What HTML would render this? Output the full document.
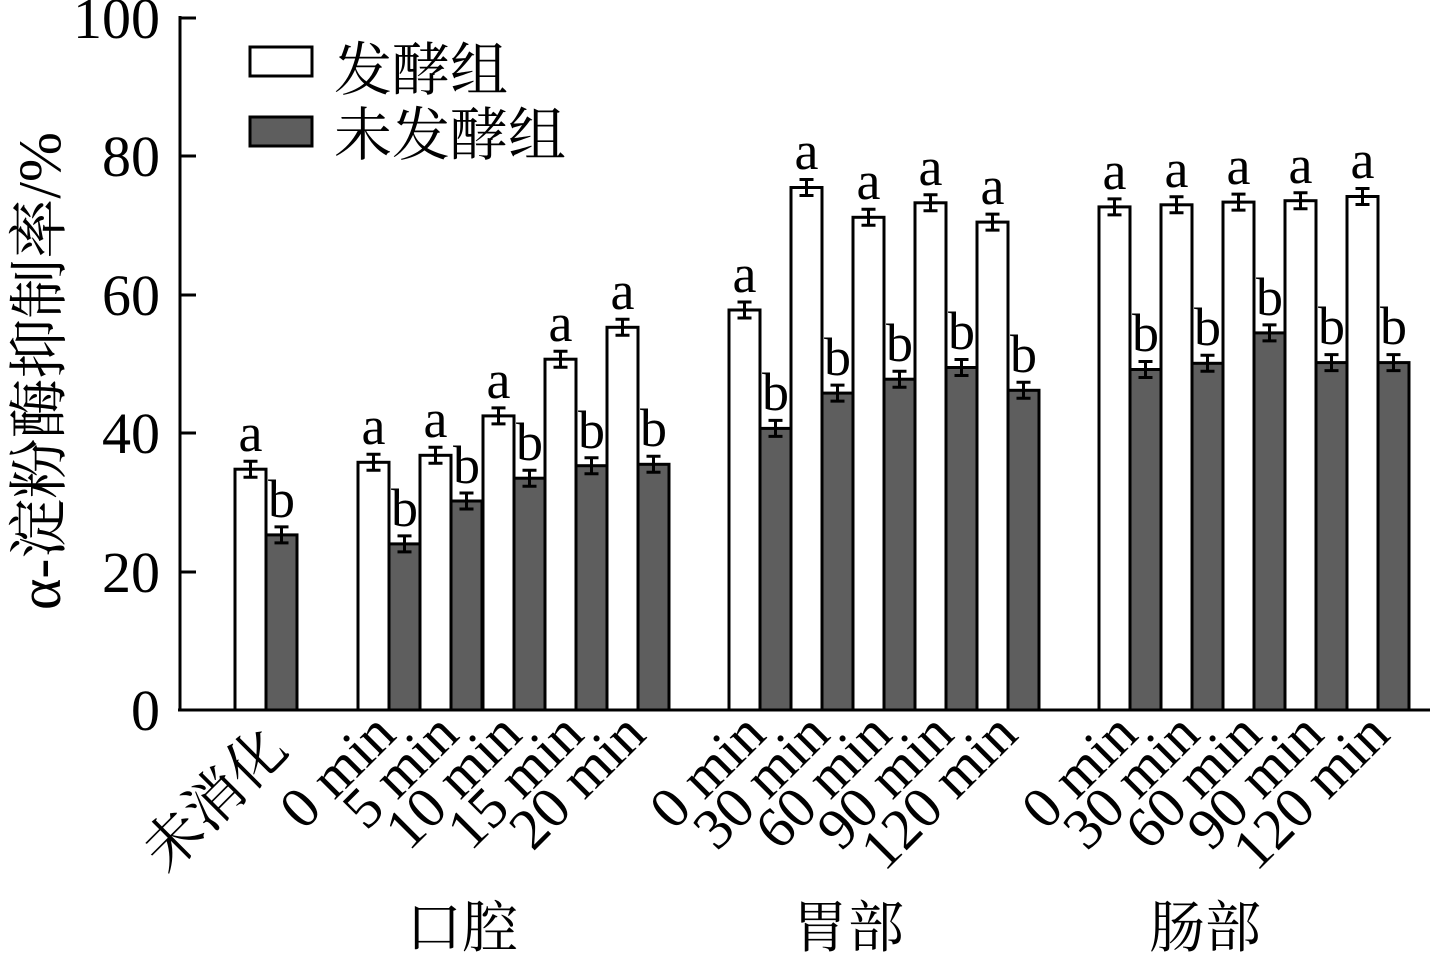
<!DOCTYPE html>
<html><head><meta charset="utf-8"><style>
html,body{margin:0;padding:0;background:#fff}
svg{display:block}
text{font-family:"Liberation Serif","Noto Serif CJK SC",serif;fill:#000}
</style></head><body>
<svg width="1440" height="956" viewBox="0 0 1440 956" xmlns="http://www.w3.org/2000/svg">
<g stroke="#000" stroke-width="3">
<rect x="235" y="469.2" width="31" height="240.8" fill="#fff"/><rect x="266" y="534.9" width="31" height="175.1" fill="#5e5e5e"/>
<rect x="358" y="462.3" width="31" height="247.7" fill="#fff"/><rect x="389" y="543.9" width="31" height="166.1" fill="#5e5e5e"/>
<rect x="420" y="455.3" width="31" height="254.7" fill="#fff"/><rect x="451" y="501.0" width="31" height="209.0" fill="#5e5e5e"/>
<rect x="483" y="415.9" width="31" height="294.1" fill="#fff"/><rect x="514" y="478.2" width="31" height="231.8" fill="#5e5e5e"/>
<rect x="545" y="359.2" width="31" height="350.8" fill="#fff"/><rect x="576" y="465.7" width="31" height="244.3" fill="#5e5e5e"/>
<rect x="607" y="327.3" width="31" height="382.7" fill="#fff"/><rect x="638" y="464.3" width="31" height="245.7" fill="#5e5e5e"/>
<rect x="729" y="310.0" width="31" height="400.0" fill="#fff"/><rect x="760" y="428.4" width="31" height="281.6" fill="#5e5e5e"/>
<rect x="791" y="187.5" width="31" height="522.5" fill="#fff"/><rect x="822" y="393.1" width="31" height="316.9" fill="#5e5e5e"/>
<rect x="853" y="217.3" width="31" height="492.7" fill="#fff"/><rect x="884" y="379.2" width="31" height="330.8" fill="#5e5e5e"/>
<rect x="915" y="202.8" width="31" height="507.2" fill="#fff"/><rect x="946" y="367.5" width="31" height="342.5" fill="#5e5e5e"/>
<rect x="977" y="222.1" width="31" height="487.9" fill="#fff"/><rect x="1008" y="390.3" width="31" height="319.7" fill="#5e5e5e"/>
<rect x="1099" y="206.9" width="31" height="503.1" fill="#fff"/><rect x="1130" y="369.5" width="31" height="340.5" fill="#5e5e5e"/>
<rect x="1161" y="204.8" width="31" height="505.2" fill="#fff"/><rect x="1192" y="363.3" width="31" height="346.7" fill="#5e5e5e"/>
<rect x="1223" y="202.1" width="31" height="507.9" fill="#fff"/><rect x="1254" y="332.9" width="31" height="377.1" fill="#5e5e5e"/>
<rect x="1285" y="200.7" width="31" height="509.3" fill="#fff"/><rect x="1316" y="362.6" width="31" height="347.4" fill="#5e5e5e"/>
<rect x="1347" y="196.5" width="31" height="513.5" fill="#fff"/><rect x="1378" y="362.6" width="31" height="347.4" fill="#5e5e5e"/>
</g>
<g stroke="#000" stroke-width="3" fill="none">
<path d="M250.5,469.2 m0,-8 v16 m-7,0 h14 m-14,-16 h14 M281.5,534.9 m0,-8 v16 m-7,0 h14 m-14,-16 h14"/>
<path d="M373.5,462.3 m0,-8 v16 m-7,0 h14 m-14,-16 h14 M404.5,543.9 m0,-8 v16 m-7,0 h14 m-14,-16 h14"/>
<path d="M435.5,455.3 m0,-8 v16 m-7,0 h14 m-14,-16 h14 M466.5,501.0 m0,-8 v16 m-7,0 h14 m-14,-16 h14"/>
<path d="M498.5,415.9 m0,-8 v16 m-7,0 h14 m-14,-16 h14 M529.5,478.2 m0,-8 v16 m-7,0 h14 m-14,-16 h14"/>
<path d="M560.5,359.2 m0,-8 v16 m-7,0 h14 m-14,-16 h14 M591.5,465.7 m0,-8 v16 m-7,0 h14 m-14,-16 h14"/>
<path d="M622.5,327.3 m0,-8 v16 m-7,0 h14 m-14,-16 h14 M653.5,464.3 m0,-8 v16 m-7,0 h14 m-14,-16 h14"/>
<path d="M744.5,310.0 m0,-8 v16 m-7,0 h14 m-14,-16 h14 M775.5,428.4 m0,-8 v16 m-7,0 h14 m-14,-16 h14"/>
<path d="M806.5,187.5 m0,-8 v16 m-7,0 h14 m-14,-16 h14 M837.5,393.1 m0,-8 v16 m-7,0 h14 m-14,-16 h14"/>
<path d="M868.5,217.3 m0,-8 v16 m-7,0 h14 m-14,-16 h14 M899.5,379.2 m0,-8 v16 m-7,0 h14 m-14,-16 h14"/>
<path d="M930.5,202.8 m0,-8 v16 m-7,0 h14 m-14,-16 h14 M961.5,367.5 m0,-8 v16 m-7,0 h14 m-14,-16 h14"/>
<path d="M992.5,222.1 m0,-8 v16 m-7,0 h14 m-14,-16 h14 M1023.5,390.3 m0,-8 v16 m-7,0 h14 m-14,-16 h14"/>
<path d="M1114.5,206.9 m0,-8 v16 m-7,0 h14 m-14,-16 h14 M1145.5,369.5 m0,-8 v16 m-7,0 h14 m-14,-16 h14"/>
<path d="M1176.5,204.8 m0,-8 v16 m-7,0 h14 m-14,-16 h14 M1207.5,363.3 m0,-8 v16 m-7,0 h14 m-14,-16 h14"/>
<path d="M1238.5,202.1 m0,-8 v16 m-7,0 h14 m-14,-16 h14 M1269.5,332.9 m0,-8 v16 m-7,0 h14 m-14,-16 h14"/>
<path d="M1300.5,200.7 m0,-8 v16 m-7,0 h14 m-14,-16 h14 M1331.5,362.6 m0,-8 v16 m-7,0 h14 m-14,-16 h14"/>
<path d="M1362.5,196.5 m0,-8 v16 m-7,0 h14 m-14,-16 h14 M1393.5,362.6 m0,-8 v16 m-7,0 h14 m-14,-16 h14"/>
</g>
<g font-size="54" text-anchor="middle">
<text x="250.5" y="451">a</text><text x="281.5" y="517">b</text>
<text x="373.5" y="444">a</text><text x="404.5" y="526">b</text>
<text x="435.5" y="437">a</text><text x="466.5" y="483">b</text>
<text x="498.5" y="398">a</text><text x="529.5" y="460">b</text>
<text x="560.5" y="341">a</text><text x="591.5" y="448">b</text>
<text x="622.5" y="309">a</text><text x="653.5" y="446">b</text>
<text x="744.5" y="292">a</text><text x="775.5" y="410">b</text>
<text x="806.5" y="169">a</text><text x="837.5" y="375">b</text>
<text x="868.5" y="199">a</text><text x="899.5" y="361">b</text>
<text x="930.5" y="185">a</text><text x="961.5" y="349">b</text>
<text x="992.5" y="204">a</text><text x="1023.5" y="372">b</text>
<text x="1114.5" y="189">a</text><text x="1145.5" y="351">b</text>
<text x="1176.5" y="187">a</text><text x="1207.5" y="345">b</text>
<text x="1238.5" y="184">a</text><text x="1269.5" y="315">b</text>
<text x="1300.5" y="183">a</text><text x="1331.5" y="344">b</text>
<text x="1362.5" y="178">a</text><text x="1393.5" y="344">b</text>
</g>
<g stroke="#000" stroke-width="3">
<line x1="180" y1="16" x2="180" y2="711"/>
<line x1="178" y1="710" x2="1430" y2="710"/>
<line x1="180" y1="18" x2="196" y2="18"/>
<line x1="180" y1="156" x2="196" y2="156"/>
<line x1="180" y1="295" x2="196" y2="295"/>
<line x1="180" y1="433" x2="196" y2="433"/>
<line x1="180" y1="572" x2="196" y2="572"/>
</g>
<g font-size="58" text-anchor="end">
<text x="160" y="38">100</text>
<text x="160" y="176">80</text>
<text x="160" y="315">60</text>
<text x="160" y="453">40</text>
<text x="160" y="592">20</text>
<text x="160" y="730">0</text>
</g>
<text transform="translate(60,371) rotate(-90)" font-size="60" text-anchor="middle">α-淀粉酶抑制率/%</text>
<rect x="250" y="47" width="62" height="29" fill="#fff" stroke="#000" stroke-width="3"/>
<rect x="250" y="117" width="62" height="29" fill="#5e5e5e" stroke="#000" stroke-width="3"/>
<text x="334" y="90" font-size="58">发酵组</text>
<text x="334" y="155" font-size="58">未发酵组</text>
<g font-size="58" text-anchor="end">
<text transform="translate(290,752) rotate(-45)">未消化</text>
<text transform="translate(398,737) rotate(-45)">0 min</text>
<text transform="translate(461,737) rotate(-45)">5 min</text>
<text transform="translate(524,737) rotate(-45)">10 min</text>
<text transform="translate(586,737) rotate(-45)">15 min</text>
<text transform="translate(648,737) rotate(-45)">20 min</text>
<text transform="translate(768,737) rotate(-45)">0 min</text>
<text transform="translate(832,737) rotate(-45)">30 min</text>
<text transform="translate(894,737) rotate(-45)">60 min</text>
<text transform="translate(956,737) rotate(-45)">90 min</text>
<text transform="translate(1020,737) rotate(-45)">120 min</text>
<text transform="translate(1140,737) rotate(-45)">0 min</text>
<text transform="translate(1202,737) rotate(-45)">30 min</text>
<text transform="translate(1264,737) rotate(-45)">60 min</text>
<text transform="translate(1326,737) rotate(-45)">90 min</text>
<text transform="translate(1392,737) rotate(-45)">120 min</text>
</g>
<g font-size="56" text-anchor="middle">
<text x="462" y="947">口腔</text>
<text x="848" y="947">胃部</text>
<text x="1205" y="947">肠部</text>
</g>
</svg>
</body></html>
